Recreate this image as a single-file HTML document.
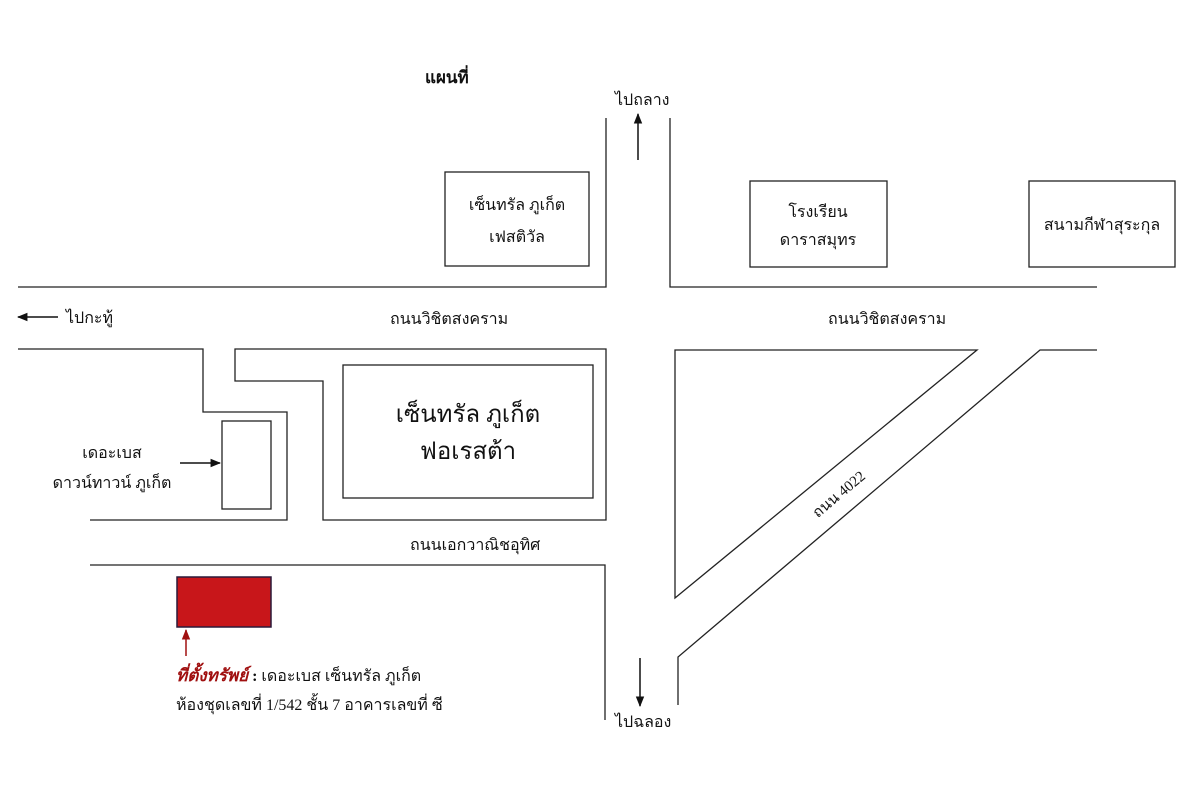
<!DOCTYPE html>
<html><head><meta charset="utf-8"><style>
body{margin:0;background:#fff}
svg{display:block}
text{font-family:"Liberation Serif","Noto Serif CJK SC","Noto Sans CJK SC",serif;fill:#111}
</style></head><body>
<svg width="1183" height="800" viewBox="0 0 1183 800">
<defs><marker id="a" viewBox="0 0 10 10" refX="9" refY="5" markerWidth="7" markerHeight="7" orient="auto"><path d="M0,1L10,5L0,9z" fill="#111"/></marker>
<marker id="r" viewBox="0 0 10 10" refX="9" refY="5" markerWidth="7" markerHeight="7" orient="auto"><path d="M0,1L10,5L0,9z" fill="#a01010"/></marker></defs>
<g fill="none" stroke="#222" stroke-width="1.3">
<polyline points="18,287 606,287 606,118"/>
<polyline points="670,118 670,287 1097,287"/>
<polyline points="18,349 203,349 203,412 287,412 287,520 90,520"/>
<polygon points="235,349 606,349 606,520 323,520 323,381 235,381"/>
<rect x="343" y="365" width="250" height="133"/>
<rect x="222" y="421" width="49" height="88"/>
<polyline points="90,565 605,565 605,720"/>
<polygon points="675,350 977,350 675,598"/>
<polyline points="1097,350 1040,350 678,657 678,705"/>
<rect x="445" y="172" width="144" height="94"/>
<rect x="750" y="181" width="137" height="86"/>
<rect x="1029" y="181" width="146" height="86"/>
</g>
<g stroke="#111" stroke-width="1.5">
<line x1="638" y1="160" x2="638" y2="114" marker-end="url(#a)"/>
<line x1="640" y1="658" x2="640" y2="706" marker-end="url(#a)"/>
<line x1="58" y1="317" x2="18" y2="317" marker-end="url(#a)"/>
<line x1="180" y1="463" x2="220" y2="463" marker-end="url(#a)"/>
<line x1="186" y1="656" x2="186" y2="630" stroke="#a01010" marker-end="url(#r)"/>
</g>
<rect x="177" y="577" width="94" height="50" fill="#c8161a" stroke="#2a1a3a" stroke-width="1.5"/>
<g font-size="16">
<text x="425" y="83" font-weight="bold" font-size="17">แผนที่</text>
<text x="615" y="105">ไปถลาง</text>
<text x="66" y="323">ไปกะทู้</text>
<text x="390" y="324">ถนนวิชิตสงคราม</text>
<text x="828" y="324">ถนนวิชิตสงคราม</text>
<text x="517" y="210" text-anchor="middle">เซ็นทรัล ภูเก็ต</text>
<text x="517" y="242" text-anchor="middle">เฟสติวัล</text>
<text x="818" y="217" text-anchor="middle">โรงเรียน</text>
<text x="818" y="245" text-anchor="middle">ดาราสมุทร</text>
<text x="1102" y="230" text-anchor="middle">สนามกีฬาสุระกุล</text>
<text x="468" y="422" text-anchor="middle" font-size="24">เซ็นทรัล ภูเก็ต</text>
<text x="468" y="459" text-anchor="middle" font-size="24">ฟอเรสต้า</text>
<text x="112" y="458" text-anchor="middle">เดอะเบส</text>
<text x="112" y="488" text-anchor="middle">ดาวน์ทาวน์ ภูเก็ต</text>
<text x="410" y="550">ถนนเอกวาณิชอุทิศ</text>
<text x="842" y="498" transform="rotate(-40 842 498)" text-anchor="middle" font-size="15">ถนน 4022</text>
<text x="176" y="681"><tspan fill="#a01010" font-weight="bold" font-style="italic" font-size="17">ที่ตั้งทรัพย์</tspan><tspan font-weight="bold"> : </tspan>เดอะเบส เซ็นทรัล ภูเก็ต</text>
<text x="176" y="710">ห้องชุดเลขที่ 1/542 ชั้น 7 อาคารเลขที่ ซี</text>
<text x="615" y="727">ไปฉลอง</text>
</g>
</svg>
</body></html>
